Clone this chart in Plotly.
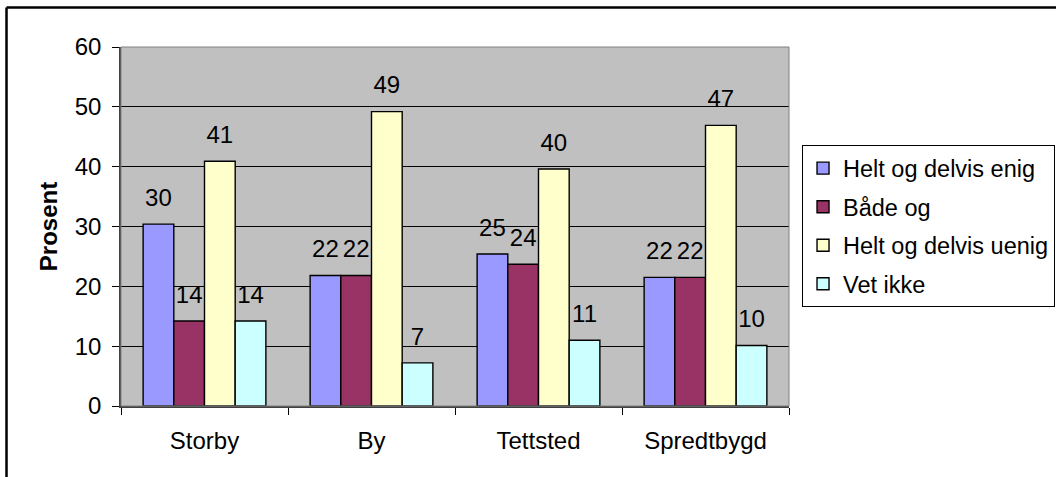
import plotly.graph_objects as go

categories = ["Storby", "By", "Tettsted", "Spredtbygd"]
series_names = ["Helt og delvis enig", "Både og", "Helt og delvis uenig", "Vet ikke"]
helt_enig = [30.4, 21.8, 25.4, 21.5]
baade_og = [14.2, 21.8, 23.7, 21.5]
helt_uenig = [40.9, 49.2, 39.6, 46.9]
vet_ikke = [14.2, 7.2, 11.0, 10.1]
labels_enig = ["30", "22", "25", "22"]
labels_baade = ["14", "22", "24", "22"]
labels_uenig = ["41", "49", "40", "47"]
labels_vet = ["14", "7", "11", "10"]
y_ticks = [0, 10, 20, 30, 40, 50, 60]

values = [helt_enig, baade_og, helt_uenig, vet_ikke]
labels = [labels_enig, labels_baade, labels_uenig, labels_vet]
colors = ["#9999FF", "#993366", "#FFFFCC", "#CCFFFF"]

FONT = "Liberation Sans, Arial, sans-serif"
FS = 24

fig = go.Figure()
for i, (name, vals, col) in enumerate(zip(series_names, values, colors)):
    fig.add_trace(go.Bar(
        x=categories, y=vals, name=name, legendgroup=name,
        marker=dict(color=col, line=dict(color="black", width=1.4)),
        hoverinfo="skip",
    ))
for i, (vals, labs) in enumerate(zip(values, labels)):
    fig.add_trace(go.Scatter(
        x=categories, y=vals, text=labs, mode="markers+text",
        textposition="top center",
        textfont=dict(family=FONT, size=FS, color="black"),
        marker=dict(size=18, color="rgba(0,0,0,0)"),
        showlegend=False, hoverinfo="skip", cliponaxis=False,
    ))

fig.update_layout(
    width=1056, height=477,
    margin=dict(l=121, r=267, t=47, b=71, autoexpand=False),
    paper_bgcolor="white", plot_bgcolor="#C0C0C0",
    barmode="group", bargap=0.265, bargroupgap=0,
    scattermode="group", scattergap=0.265,
    font=dict(family=FONT, size=FS, color="black"),
    legend=dict(
        x=1.0195, y=0.726, xanchor="left", yanchor="top",
        bordercolor="black", borderwidth=1, bgcolor="white",
        font=dict(family=FONT, size=23.5, color="black"),
        traceorder="grouped", tracegroupgap=5,
    ),
    xaxis=dict(
        showline=True, linecolor="#404040", linewidth=1.5,
        ticks="outside", tickson="boundaries", ticklen=7, tickcolor="black",
        ticklabelstandoff=12,
        showgrid=False, zeroline=False,
        tickfont=dict(family=FONT, size=FS, color="black"),
    ),
    yaxis=dict(
        range=[0, 60], tickvals=y_ticks,
        showline=True, linecolor="#404040", linewidth=1.5,
        ticks="outside", ticklen=7, tickcolor="black",
        ticklabelstandoff=6,
        showgrid=True, gridcolor="black", gridwidth=1,
        zeroline=False,
        tickfont=dict(family=FONT, size=FS, color="black"),
        title=dict(text="<b>Prosent</b>", font=dict(family=FONT, size=FS, color="black"), standoff=10),
    ),
    shapes=[
        dict(type="rect", xref="paper", yref="paper", x0=0, y0=0, x1=1, y1=1,
             line=dict(color="#808080", width=1), layer="above"),
        dict(type="line", xref="paper", yref="paper", x0=-0.1714, y0=1.110, x1=1.5, y1=1.110,
             line=dict(color="black", width=2.5)),
        dict(type="line", xref="paper", yref="paper", x0=-0.1714, y0=1.110, x1=-0.1714, y1=-0.5,
             line=dict(color="black", width=2.5)),
    ],
)

fig.write_html("out.html", config={"displayModeBar": False},
               post_script="document.body.style.margin='0';document.body.style.overflow='hidden';")
